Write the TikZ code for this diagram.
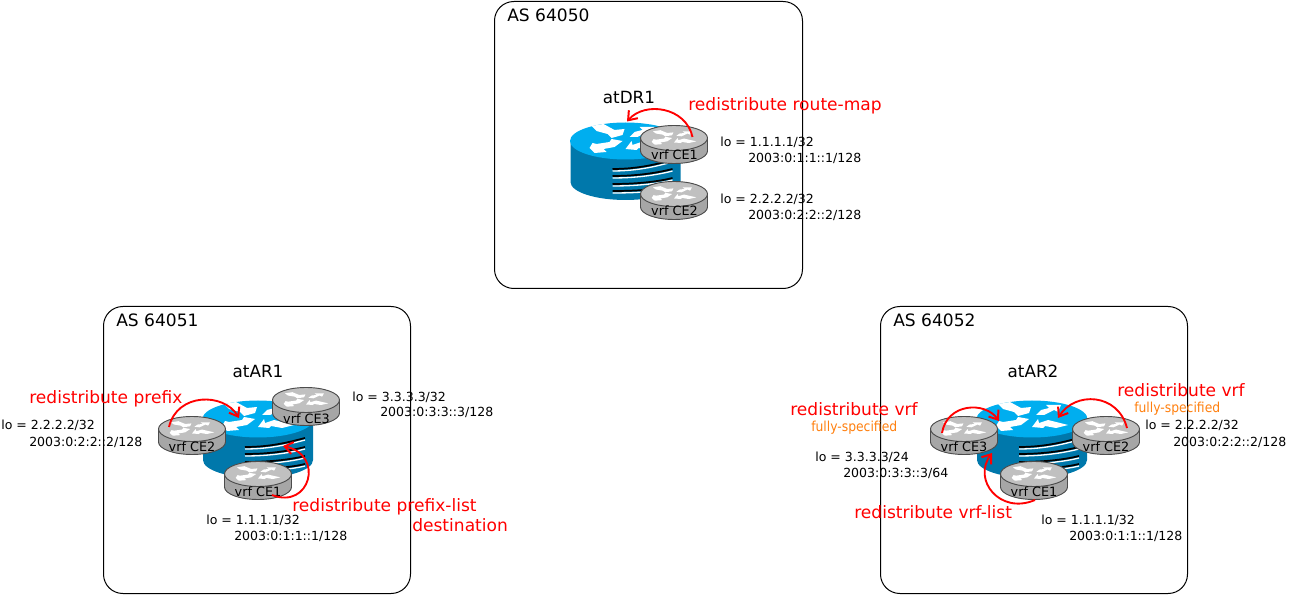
\documentclass[tikz,border=0pt]{standalone}
\usepackage{fontspec}
\setmainfont{DejaVu Sans}
\newfontfamily\orfont{DejaVu Sans Condensed}
\usetikzlibrary{arrows.meta}
\definecolor{bigtop}{HTML}{00AEEF}
\definecolor{bigside}{HTML}{0078AB}
\definecolor{smalltop}{HTML}{C0C0C0}
\definecolor{smallside}{HTML}{A6A6A6}
\definecolor{redist}{HTML}{FF0000}
\definecolor{fullspec}{HTML}{FF7F0E}
\tikzset{
  x=0.75pt,y=-0.75pt,
  asbox/.style={draw=black,line width=0.75pt,rounded corners=14.5},
  astitle/.style={anchor=base west,inner sep=0,yshift=-0.75pt,font=\fontsize{12.8pt}{14pt}\selectfont},
  rname/.style={anchor=base,inner sep=0,yshift=-0.75pt,font=\fontsize{12.6pt}{14pt}\selectfont},
  lolabel/.style={anchor=base west,inner sep=0,yshift=-0.75pt,font=\fontsize{9.4pt}{11pt}\selectfont},
  vrflabel/.style={anchor=base,inner sep=0,yshift=-0.75pt,font=\fontsize{9.6pt}{11pt}\selectfont},
  redlabel/.style={anchor=base west,inner sep=0,yshift=-0.75pt,text=redist,font=\fontsize{12.8pt}{14pt}\selectfont},
  orlabel/.style={anchor=base west,inner sep=0,yshift=-0.75pt,text=fullspec,font=\orfont\fontsize{10.3pt}{12pt}\selectfont},
  redarrow/.style={draw=redist,line width=1.4pt,-{Straight Barb[length=6pt,width=9pt,line width=1.5pt]}},
  planearrow/.style={fill=white,draw=none},
  bigrouter/.pic={
    \fill[bigside] (-55,0) -- (-55,41) arc[start angle=180,end angle=0,x radius=55,y radius=18] -- (55,0) -- cycle;
    \fill[bigtop] (0,0) ellipse[x radius=55.5,y radius=18.5];
    \foreach \a/\b in {28/19,35/28,43/37,50/45}{
      \draw[white,line width=1pt] (-13,\a+2) .. controls (15,\a+2) and (35,\b+5) .. (47,\b+2);
      \draw[black,line width=1.3pt] (-13,\a) .. controls (15,\a) and (35,\b+3) .. (47,\b);
    }
    \fill[planearrow] (-34,-15) -- (-22,-17) -- (-11,-11) -- (-1,-12) -- (-3,-6) -- (-14,-3) -- (-18,-7) -- (-29,-10) -- cycle;
    \fill[planearrow] (4,-4) -- (9,-9) -- (17,-11) -- (14,-14) -- (29,-14) -- (26,-7) -- (22,-9) -- (12,-4) -- cycle;
    \fill[planearrow] (-36,7) -- (-33,2) -- (-29,3) -- (-16,1) -- (-14,-2) -- (-3,0) -- (-11,6) -- (-22,8) -- (-19,11) -- (-31,12) -- cycle;
    \fill[planearrow] (0,8) -- (6,0) -- (7,4) -- (16,1) -- (36,6) -- (24,9) -- (13,7) -- (11,9) -- cycle;
  },
  smallrouter/.pic={
    \draw[black!70,line width=0.7pt,fill=smallside] (-33.5,0) -- (-33.5,13) arc[start angle=180,end angle=0,x radius=33.5,y radius=12.5] -- (33.5,0) -- cycle;
    \draw[black!70,line width=0.7pt,fill=smalltop] (0,0) ellipse[x radius=33.5,y radius=12.5];
    \begin{scope}[scale=0.62,yscale=0.9]
    \fill[planearrow] (-34,-12) -- (-22,-14) -- (-11,-9) -- (-1,-10) -- (-3,-5) -- (-14,-3) -- (-18,-6) -- (-29,-8) -- cycle;
    \fill[planearrow] (4,-4) -- (9,-8) -- (17,-9) -- (14,-12) -- (29,-12) -- (26,-6) -- (22,-8) -- (12,-3) -- cycle;
    \fill[planearrow] (-36,7) -- (-33,2) -- (-29,3) -- (-16,1) -- (-14,-2) -- (-3,0) -- (-11,6) -- (-22,8) -- (-19,11) -- (-31,12) -- cycle;
    \fill[planearrow] (0,8) -- (6,0) -- (7,4) -- (16,1) -- (36,6) -- (24,9) -- (13,7) -- (11,9) -- cycle;
    \end{scope}
  }
}
\begin{document}
\begin{tikzpicture}
\useasboundingbox (0,0) rectangle (1290,595);
% AS boxes
\draw[asbox] (494.5,1.5) rectangle (802.5,288.5);
\draw[asbox] (103.5,306.5) rectangle (410.5,593.5);
\draw[asbox] (880.5,306.5) rectangle (1187.5,593.5);
\node[astitle] (as50) at (507,21) {AS 64050};
\node[astitle] (as51) at (116,326) {AS 64051};
\node[astitle] (as52) at (893,326) {AS 64052};
% atDR1
\pic at (625.5,141) {bigrouter};
\pic at (674,138) {smallrouter};
\pic at (674,194) {smallrouter};
\node[rname] (dr) at (629,103) {atDR1};
\node[vrflabel] (drce1) at (674.5,159) {vrf CE1};
\node[vrflabel] (drce2) at (674.5,215) {vrf CE2};
\node[lolabel] (dl1) at (720,146) {lo = 1.1.1.1/32};
\node[lolabel] (dl2) at (748,162) {2003:0:1:1::1/128};
\node[lolabel] (dl3) at (720,203) {lo = 2.2.2.2/32};
\node[lolabel] (dl4) at (748,219) {2003:0:2:2::2/128};
\node[redlabel] (drr) at (688,110) {redistribute route-map};
\coordinate (d1s) at (692.5,137);
\coordinate (d1e) at (627,121.5);
\draw[redarrow] (d1s) .. controls (686,107) and (645,101) .. (d1e);
% atAR1
\pic at (258,419) {bigrouter};
\pic at (306,400) {smallrouter};
\pic at (192,429) {smallrouter};
\pic at (258,474) {smallrouter};
\node[rname] (ar1) at (258,377) {atAR1};
\node[vrflabel] (a1ce3) at (306.5,423) {vrf CE3};
\node[vrflabel] (a1ce2) at (192,450) {vrf CE2};
\node[vrflabel] (a1ce1) at (258,495) {vrf CE1};
\node[lolabel] (a1) at (1,429) {lo = 2.2.2.2/32};
\node[lolabel] (a2) at (29,445) {2003:0:2:2::2/128};
\node[lolabel] (a3) at (352,401) {lo = 3.3.3.3/32};
\node[lolabel] (a4) at (380,416) {2003:0:3:3::3/128};
\node[lolabel] (a5) at (206,523) {lo = 1.1.1.1/32};
\node[lolabel] (a6) at (234,539) {2003:0:1:1::1/128};
\node[redlabel] (a7) at (29,403) {redistribute prefix};
\node[redlabel] (a8) at (292,510) {redistribute prefix-list};
\node[redlabel] (a9) at (412,531) {destination};
\coordinate (a1s) at (169,427);
\coordinate (a1e) at (239,418);
\draw[redarrow] (a1s) .. controls (177,392.5) and (224,392.5) .. (a1e);
\coordinate (a2s) at (272,495);
\coordinate (a2e) at (283,446);
\draw[redarrow] (a2s) .. controls (310,510) and (325,455) .. (a2e);
% atAR2
\pic at (1032,419) {bigrouter};
\pic at (964,429) {smallrouter};
\pic at (1106,429) {smallrouter};
\pic at (1034,474) {smallrouter};
\node[rname] (ar2) at (1033,377) {atAR2};
\node[vrflabel] (b1) at (964,450) {vrf CE3};
\node[vrflabel] (b2) at (1106,450) {vrf CE2};
\node[vrflabel] (b3) at (1034,495) {vrf CE1};
\node[lolabel] (b4) at (815,461) {lo = 3.3.3.3/24};
\node[lolabel] (b5) at (843,477) {2003:0:3:3::3/64};
\node[lolabel] (b6) at (1041,523) {lo = 1.1.1.1/32};
\node[lolabel] (b7) at (1069,540) {2003:0:1:1::1/128};
\node[lolabel] (b8) at (1145,429) {lo = 2.2.2.2/32};
\node[lolabel] (b9) at (1173,445) {2003:0:2:2::2/128};
\node[redlabel] (c1) at (790,415) {redistribute vrf};
\node[orlabel] (c2) at (811,431) {fully-specified};
\node[redlabel] (c3) at (1117,396) {redistribute vrf};
\node[orlabel] (c4) at (1134,412) {fully-specified};
\node[redlabel] (c5) at (854,517) {redistribute vrf-list};
\coordinate (b1s) at (942,433);
\coordinate (b1e) at (999,421);
\draw[redarrow] (b1s) .. controls (947,403) and (985,401) .. (b1e);
\coordinate (b2s) at (1127,428);
\coordinate (b2e) at (1058,418);
\draw[redarrow] (b2s) .. controls (1118,393) and (1075,391) .. (b2e);
\coordinate (b3s) at (1035,500);
\coordinate (b3e) at (992,453);
\draw[redarrow] (b3s) .. controls (1000,515) and (972,480) .. (b3e);
\end{tikzpicture}
\end{document}
